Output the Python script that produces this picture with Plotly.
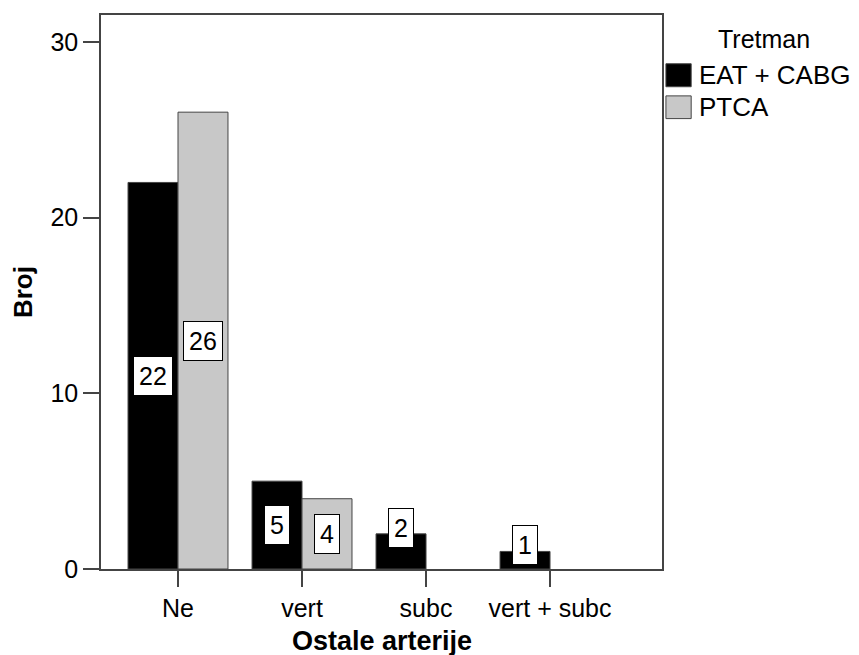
import plotly.graph_objects as go

categories = ["Ne", "vert", "subc", "vert + subc"]
series_names = ["EAT + CABG", "PTCA"]
eat_cabg = [22, 5, 2, 1]
ptca = [26, 4, 0, 0]
y_ticks = [0, 10, 20, 30]

colors = ["#000000", "#c8c8c8"]
outline = "#444444"
font_family = "Liberation Sans, Arial, sans-serif"
bargap = 0.194

fig = go.Figure()
for name, vals, col in zip(series_names, [eat_cabg, ptca], colors):
    fig.add_trace(go.Bar(
        x=categories, y=vals, name=name,
        marker=dict(color=col, line=dict(color=outline, width=[1 if v > 0 else 0 for v in vals])),
        showlegend=False, hoverinfo="x+y+name",
    ))

# value labels in white boxes
half = (1 - bargap) / 4
for si, vals in enumerate([eat_cabg, ptca]):
    off = -half if si == 0 else half
    for ci, v in enumerate(vals):
        if v <= 0:
            continue
        ly = v / 2 if v >= 4 else v + 0.35
        fig.add_annotation(
            x=ci + off, y=ly, xref="x", yref="y", text=str(v),
            showarrow=False, bgcolor="white", bordercolor="black",
            borderwidth=1, borderpad=5,
            font=dict(size=25, color="black", family=font_family),
        )

# axis titles
fig.add_annotation(x=0.5, y=-0.13, xref="paper", yref="paper", text="<b>Ostale arterije</b>",
                   showarrow=False, xanchor="center", yanchor="middle",
                   font=dict(size=27, color="black", family=font_family))
fig.add_annotation(x=-0.139, y=0.5, xref="paper", yref="paper", text="<b>Broj</b>",
                   showarrow=False, xanchor="center", yanchor="middle", textangle=-90,
                   font=dict(size=26, color="black", family=font_family))

# legend (drawn manually)
fig.add_annotation(x=1.1827, y=0.957, xref="paper", yref="paper", text="Tretman",
                   showarrow=False, xanchor="center", yanchor="middle",
                   font=dict(size=25, color="black", family=font_family))
legend_rows = [(0.912, 0.8705), (0.854, 0.813)]
for name, col, (y1, y0) in zip(series_names, colors, legend_rows):
    fig.add_shape(type="rect", xref="paper", yref="paper", x0=1.007, x1=1.052, y0=y0, y1=y1,
                  fillcolor=col, line=dict(color=outline, width=1))
    fig.add_annotation(x=1.0624, y=(y0 + y1) / 2, xref="paper", yref="paper", text=name,
                       showarrow=False, xanchor="left", yanchor="middle",
                       font=dict(size=26, color="black", family=font_family))

fig.update_layout(
    width=851, height=647,
    margin=dict(l=93, r=197, t=5, b=86),
    paper_bgcolor="white", plot_bgcolor="white",
    barmode="group", bargap=bargap, bargroupgap=0,
    font=dict(family=font_family, size=25, color="black"),
)
fig.update_xaxes(
    type="category", range=[-0.621, 3.903],
    showline=True, linecolor=outline, linewidth=1.5, mirror=True,
    ticks="outside", ticklen=16, tickcolor=outline, tickwidth=1.5,
    showgrid=False, zeroline=False,
    tickfont=dict(size=25, color="black", family=font_family),
)
fig.update_yaxes(
    range=[0, 31.53], tickvals=y_ticks,
    showline=True, linecolor=outline, linewidth=1.5, mirror=True,
    ticks="outside", ticklen=16, tickcolor=outline, tickwidth=1.5,
    showgrid=False, zeroline=False,
    tickfont=dict(size=25, color="black", family=font_family),
)

fig.write_html("out.html")
